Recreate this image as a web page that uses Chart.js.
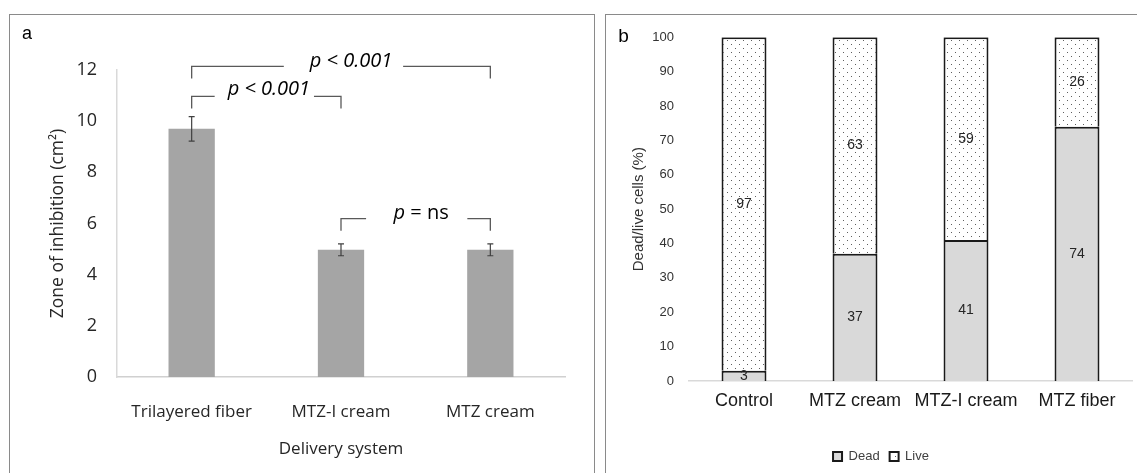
<!DOCTYPE html>
<html>
<head>
<meta charset="utf-8">
<script src="https://cdn.jsdelivr.net/npm/chart.js@4.4.1/dist/chart.umd.min.js"></script>
<style>
  html, body { margin: 0; padding: 0; background: #fff; width: 1137px; height: 473px; overflow: hidden; }
  .frame { position: absolute; border: 1px solid #8a8a8a; border-bottom: none; box-sizing: border-box; }
  #frameA { left: 9px; top: 14px; width: 586px; height: 460px; }
  #frameB { left: 605px; top: 14px; width: 540px; height: 460px; }
  canvas { position: absolute; }
  #chartA { left: 10px; top: 15px; }
  #chartB { left: 606px; top: 15px; }
</style>
</head>
<body>
<div class="frame" id="frameA"></div>
<div class="frame" id="frameB"></div>
<canvas id="chartA" width="584" height="458"></canvas>
<canvas id="chartB" width="531" height="458"></canvas>
<script>
// panel a - zone of inhibition
const categoriesA = ['Trilayered fiber', 'MTZ-I cream', 'MTZ cream'];
const zoneValues = [9.7, 4.97, 4.97];
const zoneErrors = [0.48, 0.23, 0.23];
const yTicksA = [0, 2, 4, 6, 8, 10, 12];

// panel b - dead/live cells
const categoriesB = ['Control', 'MTZ cream', 'MTZ-I cream', 'MTZ fiber'];
const deadValues = [3, 37, 41, 74];
const liveValues = [97, 63, 59, 26];
const yTicksB = [0, 10, 20, 30, 40, 50, 60, 70, 80, 90, 100];

// significance brackets (category index / axis value)
const brackets = [
  { from: 0, to: 2, y: 12.14, leg: 11.67, gap: [0.617, 1.416], text: ['p < 0.001'], tx: 1.067, ty: 12.33 },
  { from: 0, to: 1, y: 10.97, leg: 10.5, gap: [0.154, 0.819], text: ['p < 0.001'], tx: 0.517, ty: 11.24 },
  { from: 1, to: 2, y: 6.19, leg: 5.72, gap: [1.168, 1.846], text: ['p', ' = ns'], tx: 1.537, ty: 6.38 }
];

const panelLabel = {
  id: 'panelLabel',
  afterDraw(chart, args, opts) {
    const ctx = chart.ctx;
    ctx.save();
    ctx.font = opts.font;
    ctx.fillStyle = '#000';
    ctx.textAlign = 'center';
    ctx.textBaseline = 'middle';
    ctx.fillText(opts.text, opts.x, opts.y);
    ctx.restore();
  }
};

const errorBars = {
  id: 'errorBars',
  afterDatasetsDraw(chart) {
    const ctx = chart.ctx;
    const x = chart.scales.x, y = chart.scales.y;
    ctx.save();
    ctx.strokeStyle = '#404040';
    ctx.lineWidth = 1.2;
    zoneValues.forEach((v, i) => {
      const px = x.getPixelForValue(i);
      const top = y.getPixelForValue(v + zoneErrors[i]);
      const bot = y.getPixelForValue(v - zoneErrors[i]);
      ctx.beginPath();
      ctx.moveTo(px, top); ctx.lineTo(px, bot);
      ctx.moveTo(px - 3, top); ctx.lineTo(px + 3, top);
      ctx.moveTo(px - 3, bot); ctx.lineTo(px + 3, bot);
      ctx.stroke();
    });
    ctx.restore();
  }
};

// x position between categories
function catPixel(scale, v) {
  const a = scale.getPixelForValue(0), b = scale.getPixelForValue(1);
  return a + (b - a) * v;
}

const bracketPlugin = {
  id: 'brackets',
  afterDraw(chart) {
    const ctx = chart.ctx;
    const x = chart.scales.x, y = chart.scales.y;
    ctx.save();
    ctx.strokeStyle = '#595959';
    ctx.lineWidth = 1.3;
    brackets.forEach(b => {
      const x1 = catPixel(x, b.from), x2 = catPixel(x, b.to);
      const g1 = catPixel(x, b.gap[0]), g2 = catPixel(x, b.gap[1]);
      const py = y.getPixelForValue(b.y), pl = y.getPixelForValue(b.leg);
      ctx.beginPath();
      ctx.moveTo(x1, pl); ctx.lineTo(x1, py); ctx.lineTo(g1, py);
      ctx.moveTo(g2, py); ctx.lineTo(x2, py); ctx.lineTo(x2, pl);
      ctx.stroke();

      // label, first part italic
      const tx = catPixel(x, b.tx), ty = y.getPixelForValue(b.ty);
      const fonts = ['italic 20px "Open Sans"', '20px "Open Sans"'];
      let w = 0;
      b.text.forEach((t, k) => { ctx.font = fonts[k]; w += ctx.measureText(t).width; });
      let cx = tx - w / 2;
      ctx.fillStyle = '#000';
      ctx.textBaseline = 'middle';
      ctx.textAlign = 'left';
      b.text.forEach((t, k) => {
        ctx.font = fonts[k];
        ctx.fillText(t, cx, ty);
        cx += ctx.measureText(t).width;
      });
    });
    ctx.restore();
  }
};

const segmentLabels = {
  id: 'segmentLabels',
  afterDatasetsDraw(chart) {
    const ctx = chart.ctx;
    ctx.save();
    ctx.font = '14px "Liberation Sans"';
    ctx.fillStyle = '#262626';
    ctx.textAlign = 'center';
    ctx.textBaseline = 'middle';
    chart.data.datasets.forEach((ds, di) => {
      chart.getDatasetMeta(di).data.forEach((bar, i) => {
        ctx.fillText(String(ds.data[i]), bar.x, (bar.y + bar.base) / 2);
      });
    });
    ctx.restore();
  }
};

function dotPattern() {
  const c = document.createElement('canvas');
  c.width = 8; c.height = 8;
  const g = c.getContext('2d');
  g.fillStyle = '#fff';
  g.fillRect(0, 0, 8, 8);
  g.fillStyle = '#5e5e5e';
  g.fillRect(1, 1, 1, 1);
  g.fillRect(5, 5, 1, 1);
  return document.getElementById('chartB').getContext('2d').createPattern(c, 'repeat');
}

Chart.defaults.animation = false;

new Chart(document.getElementById('chartA'), {
  type: 'bar',
  data: {
    labels: categoriesA,
    datasets: [{
      data: zoneValues,
      backgroundColor: '#a5a5a5',
      barPercentage: 0.31,
      categoryPercentage: 1
    }]
  },
  options: {
    responsive: false,
    layout: { padding: { left: 0, right: 29, top: 55, bottom: 0 } },
    plugins: {
      legend: { display: false },
      tooltip: { enabled: false },
      panelLabel: { text: 'a', x: 17, y: 19, font: '18px "Liberation Sans"' }
    },
    scales: {
      x: {
        grid: { display: false, drawTicks: false },
        border: { color: '#d0d0d0', width: 1.5 },
        ticks: { color: '#262626', font: { family: 'Open Sans', size: 17 }, padding: 25 },
        title: { display: true, text: 'Delivery system', color: '#262626', font: { family: 'Open Sans', size: 17 }, padding: { top: 0, bottom: 14 } },
        afterFit: s => { s.height = 96; }
      },
      y: {
        min: 0, max: 12,
        afterBuildTicks: s => { s.ticks = yTicksA.map(v => ({ value: v })); },
        grid: { display: false, drawTicks: false },
        border: { color: '#d9d9d9', width: 1.5 },
        ticks: { color: '#262626', font: { family: 'Open Sans', size: 18 }, padding: 20 },
        title: { display: true, text: 'Zone of inhibition (cm²)', color: '#262626', font: { family: 'Open Sans', size: 17.5 }, padding: { top: 38, bottom: 0 } },
        afterFit: s => { s.width = 107; }
      }
    }
  },
  plugins: [panelLabel, errorBars, bracketPlugin]
});

new Chart(document.getElementById('chartB'), {
  type: 'bar',
  data: {
    labels: categoriesB,
    datasets: [{
      label: 'Dead',
      data: deadValues,
      backgroundColor: '#d9d9d9',
      borderColor: '#1a1a1a',
      borderWidth: 2,
      barPercentage: 0.405,
      categoryPercentage: 1
    }, {
      label: 'Live',
      data: liveValues,
      backgroundColor: dotPattern(),
      borderColor: '#1a1a1a',
      borderWidth: 2,
      barPercentage: 0.405,
      categoryPercentage: 1
    }]
  },
  options: {
    responsive: false,
    layout: { padding: { left: 23.5, right: 4.5, top: 18, bottom: 0 } },
    plugins: {
      legend: {
        position: 'bottom',
        labels: { boxWidth: 9, boxHeight: 9, color: '#404040', font: { family: 'Liberation Sans', size: 13 }, padding: 10 }
      },
      tooltip: { enabled: false },
      panelLabel: { text: 'b', x: 17.5, y: 21.5, font: '19px "Liberation Sans"' }
    },
    scales: {
      x: {
        stacked: true,
        grid: { display: false, drawTicks: false },
        border: { color: '#d9d9d9', width: 1.5 },
        ticks: { color: '#1a1a1a', font: { family: 'Liberation Sans', size: 18 }, padding: 9 },
        afterFit: s => { s.height = 59; }
      },
      y: {
        stacked: true,
        min: 0, max: 100,
        afterBuildTicks: s => { s.ticks = yTicksB.map(v => ({ value: v })); },
        grid: { display: false, drawTicks: false },
        border: { display: false },
        ticks: { color: '#333', font: { family: 'Liberation Sans', size: 13 }, padding: 14.5 },
        title: { display: true, text: 'Dead/live cells (%)', color: '#333', font: { family: 'Liberation Sans', size: 15 }, padding: { top: 0, bottom: 0 } },
        afterFit: s => { s.width = 59; }
      }
    }
  },
  plugins: [panelLabel, segmentLabels]
});
</script>
</body>
</html>
